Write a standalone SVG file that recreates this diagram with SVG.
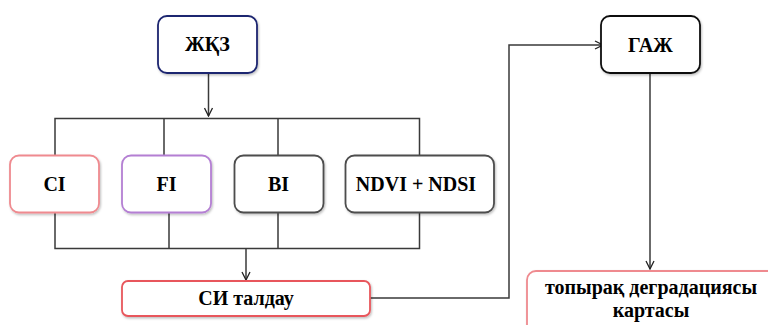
<svg xmlns="http://www.w3.org/2000/svg" width="768" height="325" viewBox="0 0 768 325">
<defs>
<style>
.box{fill:#fff;stroke-width:1.8;filter:url(#sh)}
.t{font-family:'Liberation Serif','Times New Roman',serif;font-weight:700;font-size:20px;fill:#000;text-anchor:middle}
.c{fill:none;stroke:#3a3a3a;stroke-width:1.5}
</style>
<filter id="sh" x="-10%" y="-10%" width="130%" height="130%">
<feDropShadow dx="1" dy="1.5" stdDeviation="1" flood-color="#000" flood-opacity="0.25"/>
</filter>
<marker id="ar" viewBox="0 0 10 10" refX="9" refY="5" markerWidth="10" markerHeight="10" markerUnits="userSpaceOnUse" orient="auto">
<path d="M1,1 L9,5 L1,9" fill="none" stroke="#222" stroke-width="1.3"/>
</marker>
</defs>
<rect width="768" height="325" fill="#fff"/>
<g id="connectors">
<path class="c" d="M208.5,73 V116" marker-end="url(#ar)"/>
<path class="c" d="M55,157 V118.5 H419.5 V157 M164,118.5 V157 M278,118.5 V157"/>
<path class="c" d="M55,213 V248.5 H419.5 V213 M169,213 V248.5 M278,213 V248.5"/>
<path class="c" d="M246,248.5 V280" marker-end="url(#ar)"/>
<path class="c" stroke="#111" d="M370,298 H509 V45 H603" marker-end="url(#ar)"/>
<path class="c" stroke="#111" d="M650,73 V269" marker-end="url(#ar)"/>
</g>
<g id="n-zhkz">
<rect class="box" x="158" y="16" width="99" height="57" rx="9" stroke="#1c2570" stroke-width="2.2"/>
<text class="t" x="207.5" y="51">ЖҚЗ</text>
</g>
<g id="n-gazh">
<rect class="box" x="601" y="16" width="99" height="57" rx="9" stroke="#111" stroke-width="2.2"/>
<text class="t" x="650.5" y="52">ГАЖ</text>
</g>
<g id="n-ci">
<rect class="box" x="10" y="155.5" width="89" height="57" rx="9" stroke="#ef8a8f"/>
<text class="t" x="54.5" y="191">CI</text>
</g>
<g id="n-fi">
<rect class="box" x="122" y="155.5" width="89" height="57" rx="9" stroke="#b47fd3"/>
<text class="t" x="166.5" y="191">FI</text>
</g>
<g id="n-bi">
<rect class="box" x="234.5" y="155.5" width="89" height="57" rx="9" stroke="#4d4d4d"/>
<text class="t" x="278.5" y="191">BI</text>
</g>
<g id="n-ndvi">
<rect class="box" x="345.5" y="155.5" width="148.5" height="57" rx="9" stroke="#4d4d4d"/>
<text class="t" x="416" y="191">NDVI + NDSI</text>
</g>
<g id="n-si">
<rect class="box" x="122" y="281" width="248" height="35" rx="6" stroke="#e8575c"/>
<text class="t" x="246" y="305">СИ талдау</text>
</g>
<g id="n-map">
<rect class="box" x="527" y="271" width="262" height="70" rx="9" stroke="#ef8a8f"/>
<text class="t" x="651" y="294">топырақ деградациясы</text>
<text class="t" x="651" y="317">картасы</text>
</g>
</svg>
